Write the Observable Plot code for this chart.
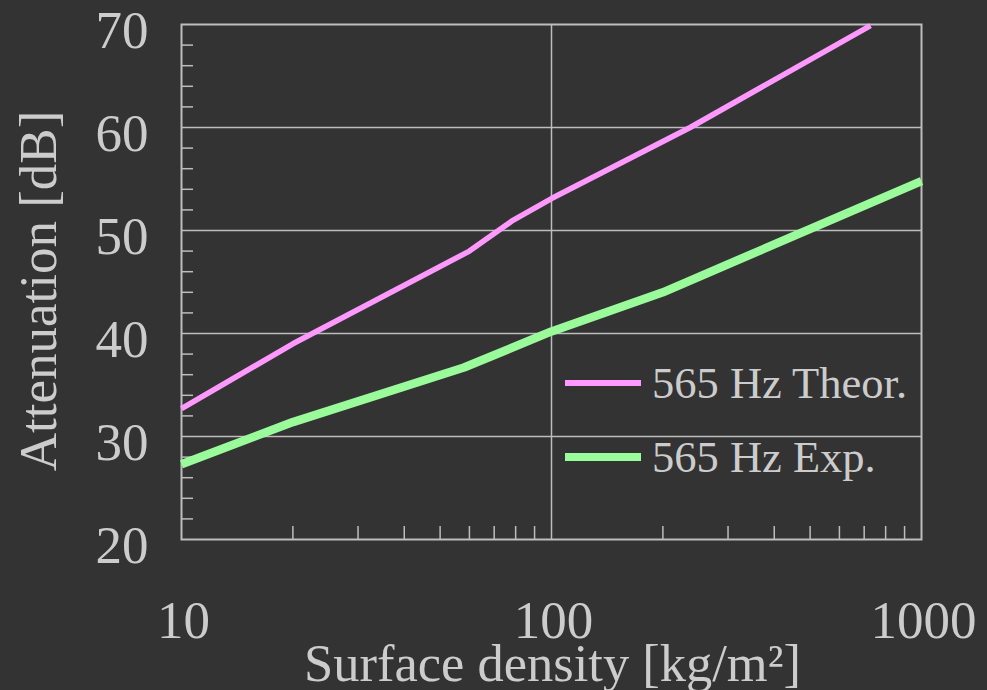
<!DOCTYPE html>
<html>
<head>
<meta charset="utf-8">
<script src="https://cdn.jsdelivr.net/npm/d3@7"></script>
<script src="https://cdn.jsdelivr.net/npm/@observablehq/plot@0.6"></script>
<style>
  html, body { margin: 0; padding: 0; background: #333333; }
  #wrap { position: relative; width: 987px; height: 690px; overflow: hidden; }
  #legend { position: absolute; left: 565px; top: 346px; font-family: "Liberation Serif", "Times New Roman", serif; font-size: 44.5px; color: #cccccc; }
  .row { display: flex; align-items: center; height: 74px; }
  .sw { width: 76px; margin-right: 11px; }
</style>
</head>
<body>
<div id="wrap"></div>
<script>
// Data
const theorX = [10, 20, 60, 78, 100, 237, 728];
const theorY = [32.7, 39.0, 48.0, 50.9, 53.1, 60.0, 69.9];
const expX = [10, 20, 58, 100, 200, 1000];
const expY = [27.3, 31.4, 36.7, 40.2, 44.0, 54.8];
const seriesNames = ["565 Hz Theor.", "565 Hz Exp."];
const seriesColors = ["#ff99ff", "#99fb99"];
const seriesWidths = [5.5, 8.5];
const xTickLabels = [10, 100, 1000];
const yTickLabels = [20, 30, 40, 50, 60, 70];
const yGrid = [30, 40, 50, 60];
const xGrid = [100];
const xMinor = [20, 30, 40, 50, 60, 70, 80, 90, 200, 300, 400, 500, 600, 700, 800, 900];
const yMinor = [22, 24, 26, 28, 32, 34, 36, 38, 42, 44, 46, 48, 52, 54, 56, 58, 62, 64, 66, 68];
const xTitle = "Surface density [kg/m²]";
const yTitle = "Attenuation [dB]";

const theor = theorX.map((x, i) => ({x, y: theorY[i]}));
const exp = expX.map((x, i) => ({x, y: expY[i]}));

const fg = "#cccccc";
const gridColor = "#bdbdbd";
const font = "Liberation Serif, Times New Roman, serif";

const chart = Plot.plot({
  width: 987,
  height: 690,
  marginLeft: 181,
  marginRight: 66,
  marginTop: 24,
  marginBottom: 151,
  style: {background: "#333333", color: fg, fontFamily: font, fontSize: "50px"},
  x: {type: "log", domain: [10, 1000]},
  y: {domain: [20, 70]},
  marks: [
    Plot.ruleY(yGrid, {stroke: gridColor, strokeWidth: 1.5}),
    Plot.ruleX(xGrid, {stroke: gridColor, strokeWidth: 1.5}),
    Plot.frame({stroke: gridColor, strokeWidth: 2}),
    Plot.axisY({ticks: yMinor, tickSize: 12, dx: 12, text: null, label: null, stroke: gridColor, strokeWidth: 1.5}),
    Plot.axisX({ticks: xMinor, tickSize: 13, dy: -13, text: null, label: null, stroke: gridColor, strokeWidth: 1.5}),
    Plot.axisY({ticks: yTickLabels, tickSize: 0, tickPadding: 33, dy: 7, label: null, fill: fg, fontSize: 53, tickFormat: d => String(d)}),
    Plot.axisX({ticks: xTickLabels, tickSize: 0, tickPadding: 61, dx: 2, label: null, fill: fg, fontSize: 53, tickFormat: d => String(d)}),
    Plot.line(theor, {x: "x", y: "y", stroke: seriesColors[0], strokeWidth: seriesWidths[0], strokeLinecap: "butt"}),
    Plot.line(exp, {x: "x", y: "y", stroke: seriesColors[1], strokeWidth: seriesWidths[1], strokeLinecap: "butt"}),
    Plot.text([xTitle], {frameAnchor: "bottom", text: d => d, dy: 125, dx: 1, lineAnchor: "middle", textAnchor: "middle", fill: fg, fontSize: 52.5}),
    Plot.text([yTitle], {frameAnchor: "left", text: d => d, rotate: -90, dx: -142, dy: 9, lineAnchor: "middle", textAnchor: "middle", fill: fg, fontSize: 53})
  ]
});

const wrap = document.getElementById("wrap");
wrap.appendChild(chart);

const legend = document.createElement("div");
legend.id = "legend";
seriesNames.forEach((name, i) => {
  const row = document.createElement("div");
  row.className = "row";
  const sw = document.createElement("span");
  sw.className = "sw";
  sw.style.height = seriesWidths[i] + "px";
  sw.style.background = seriesColors[i];
  const t = document.createElement("span");
  t.textContent = name;
  row.appendChild(sw);
  row.appendChild(t);
  legend.appendChild(row);
});
wrap.appendChild(legend);
</script>
</body>
</html>
